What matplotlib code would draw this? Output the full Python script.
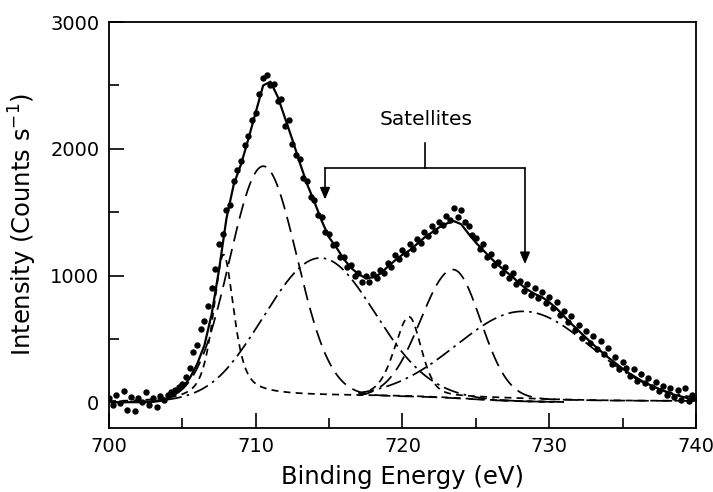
import numpy as np
import matplotlib
matplotlib.use('Agg')
import matplotlib.pyplot as plt
from matplotlib.ticker import MultipleLocator

# measured spectrum, 0.25 eV steps from 700 to 740 eV
dot_start, dot_stop, dot_n = 700.0, 740.0, 161
dot_counts = [
    30, -20, 60, -10, 90, -60, 40, -70, 30, 0, 80, -20, 30, -40, 50, 20, 60, 80, 100, 120,
    140, 200, 270, 400, 450, 580, 640, 760, 900, 1050, 1250, 1330, 1520, 1560, 1750, 1830, 1900, 2030, 2100, 2230,
    2280, 2430, 2560, 2580, 2500, 2510, 2380, 2390, 2180, 2230, 2040, 1950, 1920, 1770, 1750, 1620, 1600, 1480, 1460, 1340,
    1330, 1240, 1250, 1150, 1150, 1070, 1080, 1000, 1020, 950, 1000, 950, 1010, 980, 1040, 1020, 1100, 1070, 1160, 1130,
    1200, 1170, 1250, 1210, 1290, 1260, 1340, 1310, 1390, 1350, 1420, 1400, 1470, 1440, 1530, 1460, 1520, 1420, 1390, 1320,
    1300, 1210, 1250, 1150, 1170, 1080, 1110, 1020, 1070, 980, 1020, 930, 960, 880, 930, 850, 900, 820, 870, 780,
    830, 740, 790, 690, 720, 630, 680, 570, 610, 510, 560, 470, 520, 420, 480, 380, 430, 300, 360, 260,
    320, 270, 210, 260, 170, 220, 150, 190, 120, 160, 90, 130, 60, 110, 40, 100, 20, 110, 10, 60,
    30,
]

# fitted envelope, 0.5 eV steps
fit_start, fit_stop, fit_n = 700.0, 740.0, 81
fit_counts = [
    0, 0, 0, 0, 0, 0, 3, 10, 30, 60,
    115, 190, 300, 450, 700, 1050, 1450, 1720, 1880, 2080,
    2290, 2500, 2530, 2410, 2240, 2070, 1890, 1720, 1580, 1430,
    1300, 1220, 1130, 1060, 1010, 980, 985, 1015, 1070, 1120,
    1165, 1200, 1250, 1300, 1340, 1380, 1410, 1430, 1405, 1330,
    1260, 1200, 1140, 1085, 1035, 990, 935, 890, 855, 830,
    790, 740, 680, 620, 565, 510, 455, 405, 355, 310,
    265, 225, 190, 155, 130, 105, 80, 60, 45, 30,
    20,
]

# fitted components (2p3/2 group A, 2p1/2 group B)
comp_center = [707.8, 710.5, 714.4, 720.45, 723.45, 728.3]
comp_height = [1150, 1815, 1087, 635, 1010, 690]
comp_hwhm_left = [0.85, 2.7, 4.35, 1.2, 2.6, 5.4]
comp_hwhm_right = [0.85, 2.7, 4.35, 1.0, 2.2, 5.4]
comp_lorentz = [0.65, 0.0, 0.0, 0.4, 0.0, 0.0]
comp_group = ['A', 'A', 'A', 'B', 'B', 'B']
comp_style = ['short', 'long', 'dashdot', 'short', 'long', 'dashdot']

group_range = {'A': (700.0, 731.0), 'B': (717.0, 740.0)}

dash_styles = {
    'short': (4, 3),
    'long': (9, 4.5),
    'dashdot': (9, 3, 1.5, 3),
}


def background(e, group):
    if group == 'A':
        return 52 / (1 + np.exp(-(e - 708.5) / 0.8)) / (1 + np.exp((e - 724.5) / 2.0))
    return 10 + 30 / (1 + np.exp((e - 729.0) / 2.5))


def peak(e, c, h, wl, wr, eta):
    w = np.where(e < c, wl, wr)
    d = (e - c) / w
    return h * (eta / (1 + d ** 2) + (1 - eta) * np.exp(-np.log(2) * d ** 2))


fig = plt.figure(figsize=(7.13, 4.92), dpi=100)
ax = fig.add_axes([0.153, 0.131, 0.823, 0.824])

for i in range(len(comp_center)):
    lo, hi = group_range[comp_group[i]]
    e = np.linspace(lo, hi, 800)
    y = background(e, comp_group[i]) + peak(e, comp_center[i], comp_height[i],
                                            comp_hwhm_left[i], comp_hwhm_right[i],
                                            comp_lorentz[i])
    ax.plot(e, y, color='black', lw=1.25, dashes=dash_styles[comp_style[i]])

dot_e = np.linspace(dot_start, dot_stop, dot_n)
ax.plot(dot_e, dot_counts, 'o', ms=4.6, color='black', mew=0)

fit_e = np.linspace(fit_start, fit_stop, fit_n)
ax.plot(fit_e, fit_counts, '-', color='black', lw=1.6)

# satellite bracket
label_pos = (721.6, 2230)
stem_x = 721.55
bracket_y = 1847
stem_top = 2047
left_arrow = (714.72, 1600)
right_arrow = (728.35, 1090)

ax.text(label_pos[0], label_pos[1], 'Satellites', ha='center', va='center', fontsize=14.5)
ax.plot([stem_x, stem_x], [stem_top, bracket_y], color='black', lw=1.2)
ax.plot([left_arrow[0], right_arrow[0]], [bracket_y, bracket_y], color='black', lw=1.2)
for tip in (left_arrow, right_arrow):
    ax.annotate('', xy=tip, xytext=(tip[0], bracket_y),
                arrowprops=dict(arrowstyle='-|>,head_length=0.7,head_width=0.3',
                                color='black', lw=1.2, shrinkA=0, shrinkB=0))

ax.set_xlim(700, 740)
ax.set_ylim(-200, 3000)
ax.xaxis.set_major_locator(MultipleLocator(10))
ax.xaxis.set_minor_locator(MultipleLocator(5))
ax.yaxis.set_major_locator(MultipleLocator(1000))
ax.yaxis.set_minor_locator(MultipleLocator(500))
ax.tick_params(which='both', direction='in', width=1.2, labelsize=14, pad=7)
ax.tick_params(which='major', length=11)
ax.tick_params(which='minor', length=7)
for s in ax.spines.values():
    s.set_linewidth(1.3)

ax.set_xlabel('Binding Energy (eV)', fontsize=17.5, labelpad=6)
ax.set_ylabel('Intensity (Counts s$^{-1}$)', fontsize=17.5, labelpad=8)

fig.savefig('out.png', dpi=100)
